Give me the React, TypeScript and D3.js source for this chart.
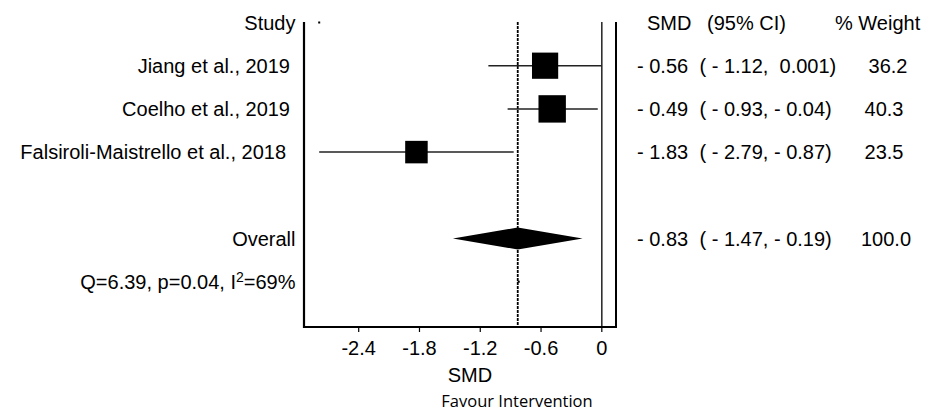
import React from "react";
import * as d3 from "d3";

const studies = ["Jiang et al., 2019", "Coelho et al., 2019", "Falsiroli-Maistrello et al., 2018"];
const labelOffsets = [5.5, 5.5, 9.5];
const smd = [-0.56, -0.49, -1.83];
const ciLow = [-1.12, -0.93, -2.79];
const ciHigh = [0.001, -0.04, -0.87];
const weights = [36.2, 40.3, 23.5];
const smdLabels = ["- 0.56", "- 0.49", "- 1.83"];
const ciLabels = ["( - 1.12,  0.001)", "( - 0.93, - 0.04)", "( - 2.79, - 0.87)"];
const weightLabels = ["36.2", "40.3", "23.5"];
const weightOffsets = [2, -2, -2];

const overallSmd = -0.83;
const overallLow = -1.47;
const overallHigh = -0.19;
const overallSmdLabel = "- 0.83";
const overallCiLabel = "( - 1.47, - 0.19)";
const overallWeightLabel = "100.0";

const xTicks = [-2.4, -1.8, -1.2, -0.6, 0];
const xTickLabels = ["-2.4", "-1.8", "-1.2", "-0.6", "0"];

export default function App() {
  const x = d3.scaleLinear().domain([-2.94, 0.14]).range([304, 616]);
  const row = d3.scaleLinear().domain([0, 6]).range([22.5, 281.7]);
  const side = d3.scaleLinear().domain([23.5, 40.3]).range([22.5, 27.4]);
  const top = 22;
  const bottom = 327;
  const font = "'Liberation Sans', Arial, sans-serif";
  const fs = 20;
  const dy = 7;
  const diamond = d3.line<[number, number]>()([
    [x(overallLow), row(5)],
    [x(overallSmd), row(5) - 11],
    [x(overallHigh), row(5)],
    [x(overallSmd), row(5) + 11],
  ]) + "Z";

  return (
    <svg width={933} height={412} style={{ position: "absolute", left: 0, top: 0, background: "#fff" }} fontFamily={font}>
      <rect x={0} y={0} width={933} height={412} fill="#fff" />
      {/* header */}
      <text x={295.5} y={row(0) + dy} fontSize={fs} textAnchor="end">Study</text>
      <text x={647} y={row(0) + dy} fontSize={fs}>SMD</text>
      <text x={707} y={row(0) + dy} fontSize={fs}>(95% CI)</text>
      <text x={835} y={row(0) + dy} fontSize={fs}>% Weight</text>
      <rect x={x(-2.79) - 1} y={row(0) - 1} width={2} height={2} fill="#000" />

      {/* reference lines */}
      <line x1={x(0)} x2={x(0)} y1={top} y2={bottom} stroke="#222" strokeWidth={1.5} />
      <line x1={x(overallSmd)} x2={x(overallSmd)} y1={top} y2={bottom} stroke="#000" strokeWidth={1.8} strokeDasharray="3,1" />
      <rect x={x(overallSmd)} y={row(6) - 1} width={2} height={2} fill="#000" />

      {/* studies */}
      {studies.map((s, i) => {
        const cy = row(i + 1);
        const w = side(weights[i]);
        return (
          <g key={s}>
            <text x={295.5 - labelOffsets[i]} y={cy + dy} fontSize={fs} textAnchor="end">{s}</text>
            <line x1={x(ciLow[i])} x2={x(ciHigh[i])} y1={cy} y2={cy} stroke="#222" strokeWidth={1.5} />
            <rect x={x(smd[i]) - w / 2} y={cy - w / 2} width={w} height={w} fill="#000" />
            <text x={637} y={cy + dy} fontSize={fs}>{smdLabels[i]}</text>
            <text x={699.5} y={cy + dy} fontSize={fs} style={{ whiteSpace: "pre" }}>{ciLabels[i]}</text>
            <text x={886 + weightOffsets[i]} y={cy + dy} fontSize={fs} textAnchor="middle">{weightLabels[i]}</text>
          </g>
        );
      })}

      {/* overall */}
      <text x={295.5} y={row(5) + dy} fontSize={fs} textAnchor="end">Overall</text>
      <path d={diamond} fill="#000" />
      <text x={637} y={row(5) + dy} fontSize={fs}>{overallSmdLabel}</text>
      <text x={699.5} y={row(5) + dy} fontSize={fs} style={{ whiteSpace: "pre" }}>{overallCiLabel}</text>
      <text x={886} y={row(5) + dy} fontSize={fs} textAnchor="middle">{overallWeightLabel}</text>

      <text x={295.5} y={row(6) + dy} fontSize={fs} textAnchor="end">
        Q=6.39, p=0.04, I<tspan fontSize={14} dy={-7}>2</tspan><tspan dy={7}>=69%</tspan>
      </text>

      {/* axes */}
      <line x1={304} x2={304} y1={top} y2={bottom + 1} stroke="#000" strokeWidth={2.2} />
      <line x1={303} x2={617} y1={bottom} y2={bottom} stroke="#000" strokeWidth={2.2} />
      <line x1={616} x2={616} y1={top} y2={bottom} stroke="#000" strokeWidth={2} />
      {xTicks.map((t, i) => (
        <g key={t}>
          <line x1={x(t)} x2={x(t)} y1={bottom} y2={bottom + 5} stroke="#000" strokeWidth={1.2} />
          <text x={x(t)} y={354.5} fontSize={fs} textAnchor="middle">{xTickLabels[i]}</text>
        </g>
      ))}
      <text x={470} y={381.7} fontSize={fs} textAnchor="middle">SMD</text>
      <text x={517} y={406.7} fontSize={16.5} textAnchor="middle" fontFamily="'Open Sans', 'Noto Sans', sans-serif">Favour Intervention</text>
    </svg>
  );
}
